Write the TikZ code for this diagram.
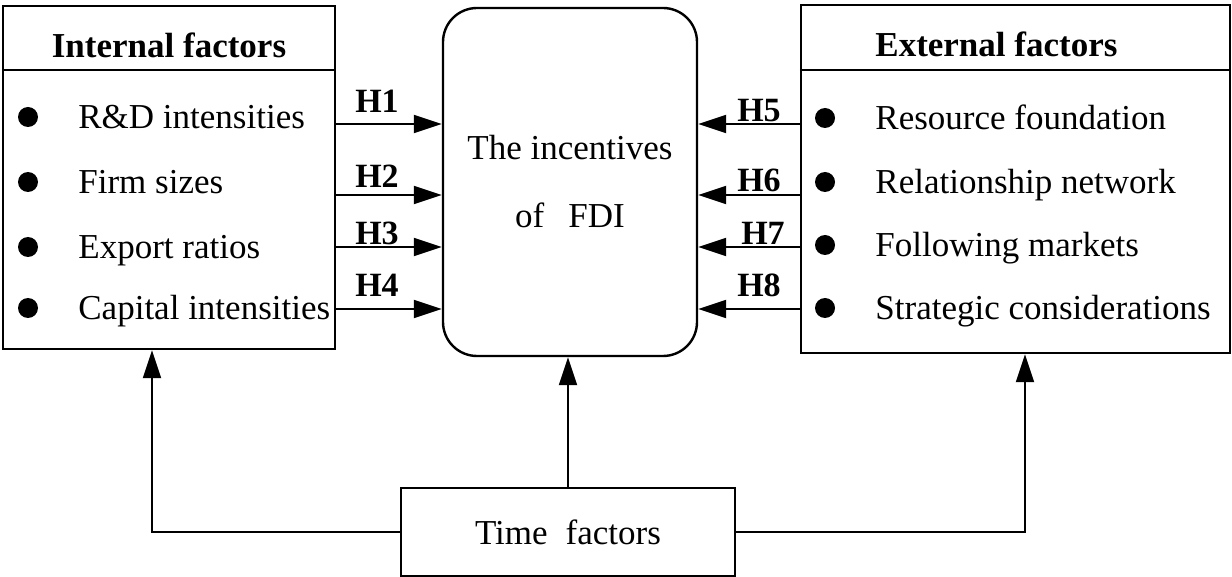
\documentclass[tikz,border=0pt]{standalone}
\usepackage{fontspec}
\setmainfont{Liberation Serif}
\usetikzlibrary{arrows.meta}
\tikzstyle{factorbox} = [rectangle, draw=black, line width=1.2pt, inner sep=0pt]
\tikzstyle{mainbox} = [rectangle, rounded corners=17pt, draw=black, line width=1.2pt, minimum width=127pt, minimum height=174pt, align=center, font=\fontsize{17.5}{34}\selectfont]
\tikzstyle{item} = [anchor=base west, inner sep=0pt, font=\fontsize{17.5}{21}\selectfont]
\tikzstyle{head} = [anchor=base, inner sep=0pt, font=\bfseries\fontsize{17.5}{21}\selectfont]
\tikzstyle{hlab} = [anchor=base, inner sep=0pt, font=\bfseries\fontsize{17}{20}\selectfont]
\tikzstyle{dot} = [circle, fill=black, minimum size=10pt, inner sep=0pt]
\tikzstyle{arrow} = [line width=1pt, -{Triangle[length=14pt,width=9pt]}]

\begin{document}
\begin{tikzpicture}[x=0.5pt, y=-0.5pt]
                \useasboundingbox (0,0) rectangle (1232,577);
                % boxes
                \node (intbox) [factorbox, minimum width=166pt, minimum height=171.5pt] at (169,177.5) {};
                \node (extbox) [factorbox, minimum width=214.5pt, minimum height=174pt] at (1015.5,179) {};
                \node (fdi) [mainbox] at (570,182) {The incentives\\of\hspace{12pt}FDI};
                \node (time) [factorbox, minimum width=167pt, minimum height=44pt, font=\fontsize{17.5}{21}\selectfont] at (568,532) {Time\hspace{9pt}factors};
                \draw [line width=1.2pt] ([yshift=-32.5pt]intbox.north west) -- ([yshift=-32.5pt]intbox.north east);
                \draw [line width=1.2pt] ([yshift=-33pt]extbox.north west) -- ([yshift=-33pt]extbox.north east);
                \node (inthead) [head] at (169,58) {Internal factors};
                \node (exthead) [head, anchor=base west] at (875,57) {External factors};
                % internal factors
                \node (dot1) [dot] at (28,117) {};
                \node (dot2) [dot] at (28,182) {};
                \node (dot3) [dot] at (28,247) {};
                \node (dot4) [dot] at (28,308) {};
                \node (int1) [item] at (78,128.5) {R\&D intensities};
                \node (int2) [item] at (78,193.5) {Firm sizes};
                \node (int3) [item] at (78,258.5) {Export ratios};
                \node (int4) [item] at (78,319.5) {Capital intensities};
                % external factors
                \node (dot5) [dot] at (825,118) {};
                \node (dot6) [dot] at (825,182) {};
                \node (dot7) [dot] at (825,245) {};
                \node (dot8) [dot] at (825,308) {};
                \node (ext1) [item] at (875,129.5) {Resource foundation};
                \node (ext2) [item] at (875,193.5) {Relationship network};
                \node (ext3) [item] at (875,256.5) {Following markets};
                \node (ext4) [item] at (875,319.5) {Strategic considerations};
                % hypotheses
                \coordinate (row1) at (0,124);
                \coordinate (row2) at (0,195);
                \coordinate (row3) at (0,247);
                \coordinate (row4) at (0,309);
                \draw [arrow] (intbox.east |- row1) -- (fdi.west |- row1);
                \draw [arrow] (intbox.east |- row2) -- (fdi.west |- row2);
                \draw [arrow] (intbox.east |- row3) -- (fdi.west |- row3);
                \draw [arrow] (intbox.east |- row4) -- (fdi.west |- row4);
                \draw [arrow] (extbox.west |- row1) -- (fdi.east |- row1);
                \draw [arrow] (extbox.west |- row2) -- (fdi.east |- row2);
                \draw [arrow] (extbox.west |- row3) -- (fdi.east |- row3);
                \draw [arrow] (extbox.west |- row4) -- (fdi.east |- row4);
                \node (h1) [hlab] at (377,113) {H1};
                \node (h2) [hlab] at (377,188) {H2};
                \node (h3) [hlab] at (377,245) {H3};
                \node (h4) [hlab] at (377,297) {H4};
                \node (h5) [hlab] at (759,122) {H5};
                \node (h6) [hlab] at (759,192) {H6};
                \node (h7) [hlab] at (763,245) {H7};
                \node (h8) [hlab] at (759,297) {H8};
                % time factors
                \draw [arrow] (time.west) -| ([xshift=-8.5pt]intbox.south);
                \draw [arrow] (time.north) -- (time.north |- fdi.south);
                \draw [arrow] (time.east) -| ([xshift=4.75pt]extbox.south);
            \end{tikzpicture}
\end{document}
